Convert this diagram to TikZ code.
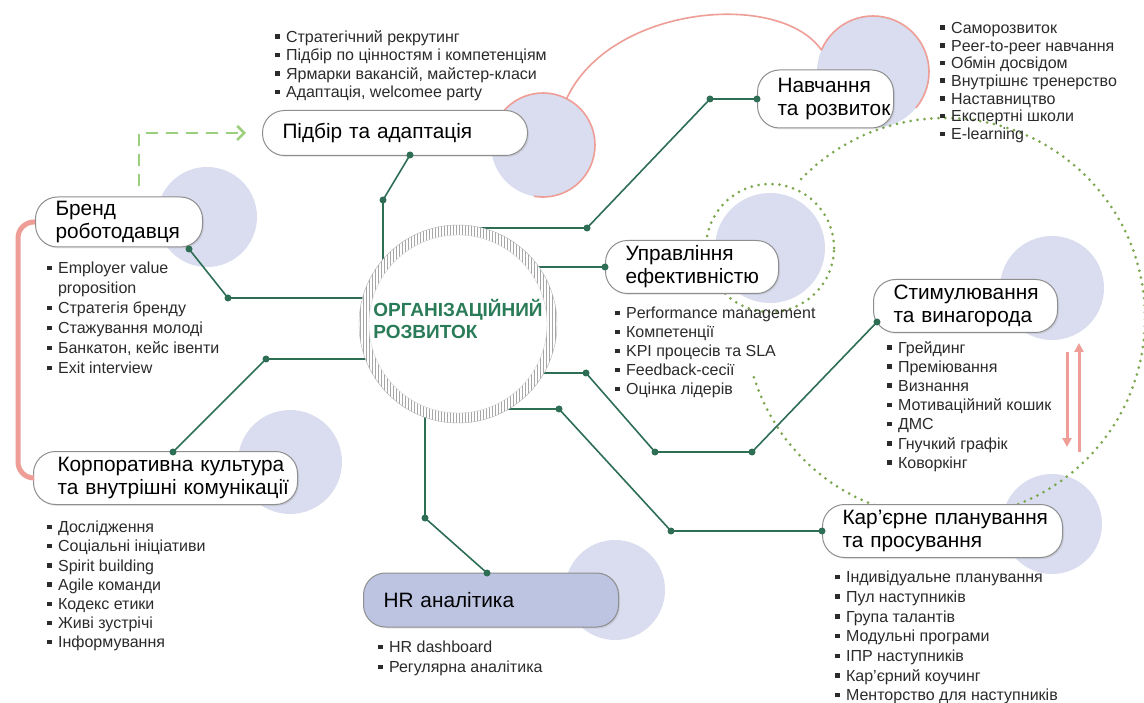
\documentclass[tikz,border=0pt]{standalone}
\usepackage{fontspec}
\setmainfont{Liberation Sans}
\usetikzlibrary{positioning, arrows.meta, patterns, shapes.misc, shadows}
\definecolor{linkgreen}{HTML}{2E6E55}
\definecolor{orgtext}{HTML}{2A7B57}
\definecolor{circfill}{HTML}{D9DDEF}
\definecolor{pillgray}{HTML}{8E8E8E}
\definecolor{hrfill}{HTML}{BCC4E2}
\definecolor{salmon}{HTML}{EE9E96}
\definecolor{dotgreen}{HTML}{7BA84E}
\definecolor{dashgreen}{HTML}{9BCF7E}
\definecolor{bullettext}{HTML}{2B2B2B}
\newcommand{\bul}{\rule[0.22em]{0.28em}{0.28em}\hspace{0.4em}}
\pgfdeclarelayer{back}
\pgfdeclarelayer{links}
\pgfsetlayers{back,links,main}
\tikzset{
	pillnode/.style={
			rectangle,
			rounded corners=22pt,
			draw=pillgray,
			line width=1pt,
			fill=white,
			drop shadow={opacity=0.18, shadow xshift=1.5pt, shadow yshift=-1.5pt},
			anchor=west,
			inner xsep=20pt,
			inner ysep=2pt,
			align=left,
			font=\fontsize{20.8}{23}\selectfont,
			text=black
		},
	bgcircle/.style={
			circle,
			fill=circfill,
			inner sep=0pt,
			outer sep=0pt
		},
	listnode/.style={
			anchor=north west,
			inner sep=0pt,
			align=left,
			text=bullettext,
			font=\fontsize{16}{19}\selectfont
		}
}
\tikzset{
	link/.style={draw=linkgreen, line width=1.6pt},
	dotline/.style={draw=dotgreen, line width=3pt, line cap=round, dash pattern=on 0pt off 7pt},
	salmonline/.style={draw=salmon, line width=1.6pt},
	brandline/.style={draw=salmon, line width=5pt, rounded corners=16pt},
	swaparrow/.style={draw=salmon, line width=3pt, -{Triangle[length=9pt,width=9pt]}},
	dasharrow/.style={draw=dashgreen, line width=2.5pt, dash pattern=on 12pt off 8pt, -{Straight Barb[length=7pt,width=14pt]}}
}

\begin{document}
\begin{tikzpicture}[x=1pt, y=-1pt]

  \useasboundingbox (0,0) rectangle (1144,703);

  \begin{pgfonlayer}{back}
    \fill[white] (0,0) rectangle (1144,703);
    \node[bgcircle, minimum size=104pt] (pidbircirc) at (543,145) {};
    \node[bgcircle, minimum size=112pt] (navchcirc) at (873,72) {};
    \node[bgcircle, minimum size=100pt] (brendcirc) at (207,217) {};
    \node[bgcircle, minimum size=110pt] (upravlcirc) at (770,248) {};
    \node[bgcircle, minimum size=104pt] (stymcirc) at (1052,288) {};
    \node[bgcircle, minimum size=104pt] (korpcirc) at (290,462) {};
    \node[bgcircle, minimum size=100pt] (hrcirc) at (615,590) {};
    \node[bgcircle, minimum size=100pt] (kariercirc) at (1052,524) {};

    \coordinate (bigring) at (945,318);
    \draw[dotline] (upravlcirc.center) circle[radius=64pt];
    \draw[dotline] (bigring) ++(-136:200) arc[start angle=-136, end angle=164, radius=200];

    \draw[salmonline] (pidbircirc.center) ++(-140:52) arc[start angle=-140, end angle=100, radius=52];
    \draw[salmonline] (navchcirc.center) ++(-157:56) arc[start angle=-157, end angle=40, radius=56];
    \draw[salmonline] (pidbircirc.63) .. controls (610,5) and (780,-10) .. (navchcirc.157);
  \end{pgfonlayer}

  \node[circle, minimum size=198pt, preaction={fill=white}, pattern=vertical lines, pattern color=gray!70, draw=gray!60] (orgcenter) at (458,324) {};
  \node[circle, minimum size=178pt, fill=white, draw=gray!35] (orginner) at (458,324) {};
  \node[align=left, text=orgtext, font=\bfseries\fontsize{19}{22}\selectfont] (orgtitle) at (458,319) {ОРГАНІЗАЦІЙНИЙ\\РОЗВИТОК};

  \node[pillnode, text width=225pt, minimum height=45pt] (pidbir) at (262,133) {Підбір~та~адаптація};
  \node[pillnode, text width=96pt, minimum height=58pt] (navch) at (757,99) {Навчання\\та~розвиток};
  \node[pillnode, text width=127pt, minimum height=50pt] (brend) at (35,222) {Бренд\\роботодавця};
  \node[pillnode, text width=133pt, minimum height=53pt] (upravl) at (605,267) {Управління\\ефективністю};
  \node[pillnode, text width=144pt, minimum height=53pt] (stym) at (873,306) {Стимулювання\\та~винагорода};
  \node[pillnode, text width=216pt, inner xsep=24pt, minimum height=53pt] (korp) at (33,478) {Корпоративна~культура\\та~внутрішні~комунікації};
  \node[pillnode, text width=215pt, minimum height=54pt, fill=hrfill] (hr) at (363,600) {HR~аналітика};
  \node[pillnode, text width=200pt, minimum height=53pt] (karier) at (822,531) {Кар’єрне~планування\\та~просування};

  \node[listnode, font=\fontsize{16}{18.5}\selectfont] (pidbirlist) at (275,30) {\bul Стратегічний рекрутинг\\\bul Підбір по цінностям і компетенціям\\\bul Ярмарки вакансій, майстер-класи\\\bul Адаптація, welcomee party};
  \node[listnode, font=\fontsize{16}{17.7}\selectfont] (navchlist) at (940,22) {\bul Саморозвиток\\\bul Peer-to-peer навчання\\\bul Обмін досвідом\\\bul Внутрішнє тренерство\\\bul Наставництво\\\bul Експертні школи\\\bul E-learning};
  \node[listnode, font=\fontsize{16}{20}\selectfont] (brendlist) at (47,262) {\bul Employer value\\\hphantom{\bul}proposition\\\bul Стратегія бренду\\\bul Стажування молоді\\\bul Банкатон, кейс івенти\\\bul Exit interview};
  \node[listnode] (upravllist) at (615,307) {\bul Performance management\\\bul Компетенції\\\bul KPI процесів та SLA\\\bul Feedback-сесії\\\bul Оцінка лідерів};
  \node[listnode, font=\fontsize{16}{19.2}\selectfont] (stymlist) at (887,341) {\bul Грейдинг\\\bul Преміювання\\\bul Визнання\\\bul Мотиваційний кошик\\\bul ДМС\\\bul Гнучкий графік\\\bul Коворкінг};
  \node[listnode, font=\fontsize{16}{19.2}\selectfont] (korplist) at (47,521) {\bul Дослідження\\\bul Соціальні ініціативи\\\bul Spirit building\\\bul Agile команди\\\bul Кодекс етики\\\bul Живі зустрічі\\\bul Інформування};
  \node[listnode, font=\fontsize{16}{20}\selectfont] (hrlist) at (378,641) {\bul HR dashboard\\\bul Регулярна аналітика};
  \node[listnode, font=\fontsize{16}{19.7}\selectfont] (karierlist) at (835,571) {\bul Індивідуальне планування\\\bul Пул наступників\\\bul Група талантів\\\bul Модульні програми\\\bul ІПР наступників\\\bul Кар’єрний коучинг\\\bul Менторство для наступників};

  \coordinate (a1) at (383,200);
  \coordinate (a2) at (410,155);
  \coordinate (b1) at (587,228);
  \coordinate (b2) at (710,99);
  \coordinate (c1) at (586,373);
  \coordinate (c2) at (655,452);
  \coordinate (c3) at (752,452);
  \coordinate (c4) at (877,322);
  \coordinate (d1) at (559,409);
  \coordinate (d2) at (671,531);
  \coordinate (e1) at (228,298);
  \coordinate (e2) at (189,249);
  \coordinate (f1) at (266,359);
  \coordinate (f2) at (173,452);
  \coordinate (g1) at (425,518);
  \coordinate (g2) at (487,573);

  \begin{pgfonlayer}{links}
    \draw[link] (a1 |- orgcenter) -- (a1) -- (a2);
    \draw[link] (orgcenter |- b1) -- (b1) -- (b2) -- (navch.west);
    \draw[link] (orgcenter |- upravl.west) -- (upravl.west);
    \draw[link] (orgcenter |- c1) -- (c1) -- (c2) -- (c3) -- (c4);
    \draw[link] (orgcenter |- d1) -- (d1) -- (d2) -- (karier.west);
    \draw[link] (orgcenter |- e1) -- (e1) -- (e2);
    \draw[link] (orgcenter |- f1) -- (f1) -- (f2);
    \draw[link] (g1 |- orgcenter) -- (g1) -- (g2);
  \end{pgfonlayer}

  \fill[linkgreen] (a1) circle[radius=3.5pt];
  \fill[linkgreen] (a2) circle[radius=3.5pt];
  \fill[linkgreen] (b1) circle[radius=3.5pt];
  \fill[linkgreen] (b2) circle[radius=3.5pt];
  \fill[linkgreen] (navch.west) circle[radius=3.5pt];
  \fill[linkgreen] (upravl.west) circle[radius=3.5pt];
  \fill[linkgreen] (c1) circle[radius=3.5pt];
  \fill[linkgreen] (c2) circle[radius=3.5pt];
  \fill[linkgreen] (c3) circle[radius=3.5pt];
  \fill[linkgreen] (c4) circle[radius=3.5pt];
  \fill[linkgreen] (d1) circle[radius=3.5pt];
  \fill[linkgreen] (d2) circle[radius=3.5pt];
  \fill[linkgreen] (karier.west) circle[radius=3.5pt];
  \fill[linkgreen] (e1) circle[radius=3.5pt];
  \fill[linkgreen] (e2) circle[radius=3.5pt];
  \fill[linkgreen] (f1) circle[radius=3.5pt];
  \fill[linkgreen] (f2) circle[radius=3.5pt];
  \fill[linkgreen] (g1) circle[radius=3.5pt];
  \fill[linkgreen] (g2) circle[radius=3.5pt];

  \draw[brandline] (brend.west) -- ++(-17,0) |- (korp.west);
  \draw[dasharrow] ([xshift=20pt, yshift=10pt]brend.north) |- ([xshift=-16pt]pidbir.west);

  \coordinate (swapdowntop) at (1067,352);
  \coordinate (swapdownend) at (1067,447);
  \coordinate (swapupbottom) at (1079,452);
  \coordinate (swapupend) at (1079,343);
  \draw[swaparrow] (swapdowntop) -- (swapdownend);
  \draw[swaparrow] (swapupbottom) -- (swapupend);

\end{tikzpicture}
\end{document}
